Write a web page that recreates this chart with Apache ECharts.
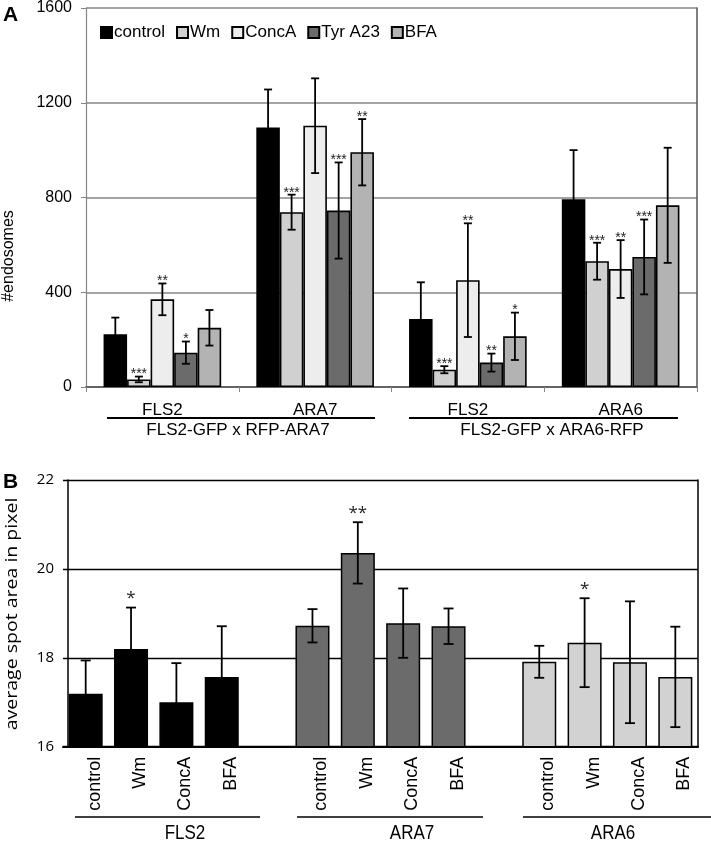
<!DOCTYPE html>
<html><head><meta charset="utf-8">
<script src="https://cdn.jsdelivr.net/npm/echarts@6/dist/echarts.min.js"></script>
<style>html,body{margin:0;padding:0;background:#fff}#c{width:711px;height:842px}</style>
</head><body><div id="c"></div>
<script>
// ================= DATA =================
// Panel A
const groupsA = ['FLS2', 'ARA7', 'FLS2', 'ARA6'];
const crossesA = ['FLS2-GFP x RFP-ARA7', 'FLS2-GFP x ARA6-RFP'];
const treatmentsA = ['control', 'Wm', 'ConcA', 'Tyr A23', 'BFA'];
const yTicksA = [0, 400, 800, 1200, 1600];
const controlA = [223, 1096, 287, 793];
const controlErrA = [70, 160, 155, 207];
const controlStarsA = ['', '', '', ''];
const wmA = [32, 738, 73, 531];
const wmErrA = [12, 74, 15, 78];
const wmStarsA = ['***', '***', '***', '***'];
const concAA = [370, 1103, 451, 498];
const concAErrA = [67, 200, 240, 122];
const concAStarsA = ['**', '', '**', '**'];
const tyrA = [145, 745, 103, 549];
const tyrErrA = [47, 203, 38, 158];
const tyrStarsA = ['*', '***', '**', '***'];
const bfaA = [250, 991, 214, 767];
const bfaErrA = [75, 140, 100, 243];
const bfaStarsA = ['', '**', '*', ''];

// Panel B
const markersB = ['FLS2', 'ARA7', 'ARA6'];
const treatmentsB = ['control', 'Wm', 'ConcA', 'BFA'];
const yTicksB = [16, 18, 20, 22];
const fls2B = [17.19, 18.20, 17.00, 17.57];
const fls2ErrB = [0.75, 0.93, 0.88, 1.14];
const fls2StarsB = ['', '*', '', ''];
const ara7B = [18.72, 20.36, 18.78, 18.71];
const ara7ErrB = [0.375, 0.69, 0.78, 0.40];
const ara7StarsB = ['', '**', '', ''];
const ara6B = [17.91, 18.34, 17.90, 17.57];
const ara6ErrB = [0.36, 1.0, 1.37, 1.13];
const ara6StarsB = ['', '*', '', ''];

// ================= STYLE =================
const colorsA = ['#000000', '#d0d0d0', '#ededed', '#6b6b6b', '#b3b3b3'];
const colorsB = ['#000000', '#6b6b6b', '#d2d2d2'];
const FONT = 'Liberation Sans, Arial, sans-serif';
const FONT_B = 'Open Sans, sans-serif';
const gridA = { left: 86, top: 8, width: 611, height: 379 };
const gridB = { left: 63, top: 480, width: 635, height: 266.7 };
const catGapA = 0.23;

// ================= BUILD =================
const valsA = [controlA, wmA, concAA, tyrA, bfaA];
const errsA = [controlErrA, wmErrA, concAErrA, tyrErrA, bfaErrA];
const starsA = [controlStarsA, wmStarsA, concAStarsA, tyrStarsA, bfaStarsA];

const errDataA = [];
const errStarA = [];
treatmentsA.forEach((t, s) => {
  groupsA.forEach((g, c) => {
    errDataA.push([c, valsA[s][c], valsA[s][c] - errsA[s][c], valsA[s][c] + errsA[s][c], s]);
    errStarA.push(starsA[s][c]);
  });
});

const valsB = [fls2B, ara7B, ara6B];
const errsB = [fls2ErrB, ara7ErrB, ara6ErrB];
const starsB = [fls2StarsB, ara7StarsB, ara6StarsB];
const catsB = [];
const barDataB = [];
const errDataB = [];
const errStarB = [];
markersB.forEach((m, g) => {
  if (g > 0) { catsB.push(''); barDataB.push(null); }
  treatmentsB.forEach((t, i) => {
    const idx = catsB.length;
    catsB.push(t);
    barDataB.push({ value: valsB[g][i], itemStyle: { color: colorsB[g] } });
    errDataB.push([idx, valsB[g][i], valsB[g][i] - errsB[g][i], valsB[g][i] + errsB[g][i]]);
    errStarB.push(starsB[g][i]);
  });
});

function errItem(x, yT, yB, cap, lw, star, starFont, starDy) {
  const st = { stroke: '#000', lineWidth: lw };
  const ch = [
    { type: 'line', shape: { x1: x, y1: yT, x2: x, y2: yB }, style: st },
    { type: 'line', shape: { x1: x - cap, y1: yT, x2: x + cap, y2: yT }, style: st },
    { type: 'line', shape: { x1: x - cap, y1: yB, x2: x + cap, y2: yB }, style: st }
  ];
  if (star) ch.push({ type: 'text', style: { text: star, x: x, y: yT + starDy, align: 'center', verticalAlign: 'bottom', font: starFont, fill: '#222' } });
  return { type: 'group', children: ch };
}

const series = [];
treatmentsA.forEach((t, i) => {
  series.push({
    type: 'bar', name: t, xAxisIndex: 0, yAxisIndex: 0, data: valsA[i],
    barGap: '0%', barCategoryGap: (catGapA * 100) + '%',
    itemStyle: { color: colorsA[i], borderColor: '#000', borderWidth: 1.6 },
    emphasis: { disabled: true }, z: 2
  });
});
series.push({
  type: 'custom', xAxisIndex: 0, yAxisIndex: 0, data: errDataA, z: 5,
  encode: { x: 0, y: [1, 2, 3] }, silent: true,
  renderItem: (params, api) => {
    const c = api.value(0), v = api.value(1), lo = api.value(2), hi = api.value(3), s = api.value(4);
    const band = api.size([1, 0])[0];
    const bw = band * (1 - catGapA) / treatmentsA.length;
    const x = api.coord([c, v])[0] + (s - (treatmentsA.length - 1) / 2) * bw;
    const yT = api.coord([c, hi])[1], yB = api.coord([c, lo])[1];
    return errItem(x, yT, yB, 4, 1.8, errStarA[params.dataIndex], '14px ' + FONT, 5);
  }
});
series.push({
  type: 'bar', xAxisIndex: 3, yAxisIndex: 2, data: barDataB,
  barCategoryGap: '25%',
  itemStyle: { borderColor: '#000', borderWidth: 1.5 },
  emphasis: { disabled: true }, z: 2
});
series.push({
  type: 'custom', xAxisIndex: 3, yAxisIndex: 2, data: errDataB, z: 5,
  encode: { x: 0, y: [1, 2, 3] }, silent: true,
  renderItem: (params, api) => {
    const c = api.value(0), v = api.value(1), lo = api.value(2), hi = api.value(3);
    const x = api.coord([c, v])[0];
    const yT = api.coord([c, hi])[1], yB = api.coord([c, lo])[1];
    return errItem(x, yT, yB, 5, 1.8, errStarB[params.dataIndex], '17px ' + FONT_B, -1);
  }
});

const grayAxis = '#868686';
const plain = v => String(v);
const option = {
  animation: false,
  backgroundColor: '#fff',
  grid: [
    Object.assign({}, gridA),
    Object.assign({}, gridB)
  ],
  legend: {
    data: treatmentsA, left: 95, top: 19, icon: 'rect', itemWidth: 11, itemHeight: 11, itemGap: 11,
    textStyle: { fontFamily: FONT, fontSize: 17, color: '#000', padding: [0, 0, 0, -3] },
    selectedMode: false
  },
  xAxis: [
    { type: 'category', gridIndex: 0, data: groupsA, position: 'bottom',
      axisLine: { lineStyle: { color: grayAxis, width: 1.5 } },
      axisTick: { show: true, length: 5, lineStyle: { color: grayAxis } },
      axisLabel: { fontFamily: FONT, fontSize: 17, color: '#000', margin: 15, interval: 0 } },
    { type: 'category', gridIndex: 0, data: groupsA, position: 'top',
      axisLine: { lineStyle: { color: '#555', width: 1.5 } }, axisTick: { show: false }, axisLabel: { show: false } },
    { type: 'category', gridIndex: 1, data: catsB, position: 'top',
      axisLine: { show: false }, axisTick: { show: false }, axisLabel: { show: false } },
    { type: 'category', gridIndex: 1, data: catsB, position: 'bottom',
      axisLine: { lineStyle: { color: '#000', width: 2 } }, axisTick: { show: false },
      axisLabel: { fontFamily: FONT, fontSize: 18, color: '#000', rotate: 90, margin: 10, interval: 0, verticalAlign: 'top' } }
  ],
  yAxis: [
    { type: 'value', gridIndex: 0, min: yTicksA[0], max: yTicksA[yTicksA.length - 1], interval: yTicksA[1] - yTicksA[0],
      axisLine: { show: true, lineStyle: { color: grayAxis, width: 1.2 } },
      axisTick: { show: true, length: 5, lineStyle: { color: grayAxis } },
      axisLabel: { fontFamily: FONT, fontSize: 16, color: '#000', margin: 14, formatter: plain },
      splitLine: { show: true, lineStyle: { color: grayAxis, width: 1.5 } } },
    { type: 'value', gridIndex: 0, position: 'right', min: yTicksA[0], max: yTicksA[yTicksA.length - 1],
      axisLine: { show: true, lineStyle: { color: '#555', width: 1.5 } }, axisTick: { show: false }, axisLabel: { show: false }, splitLine: { show: false } },
    { type: 'value', gridIndex: 1, min: yTicksB[0], max: yTicksB[yTicksB.length - 1], interval: yTicksB[1] - yTicksB[0],
      offset: -5,
      axisLine: { show: true, lineStyle: { color: '#000', width: 1.5 } },
      axisTick: { show: false },
      axisLabel: { fontFamily: FONT_B, fontSize: 15, color: '#000', margin: 14, formatter: plain },
      splitLine: { show: true, lineStyle: { color: '#000', width: 1.3 } } },
    { type: 'value', gridIndex: 1, position: 'right', min: yTicksB[0], max: yTicksB[yTicksB.length - 1],
      axisLine: { show: true, lineStyle: { color: '#000', width: 1.5 } }, axisTick: { show: false }, axisLabel: { show: false }, splitLine: { show: false } }
  ],
  graphic: [
    { type: 'text', left: 3, top: 5, style: { text: 'A', font: 'bold 21px ' + FONT, fill: '#000' } },
    { type: 'text', left: 3, top: 472, style: { text: 'B', font: 'bold 21px ' + FONT, fill: '#000' } },
    { type: 'text', x: 9, y: 256, rotation: Math.PI / 2, style: { text: '#endosomes', font: '16px ' + FONT, fill: '#000', align: 'center', verticalAlign: 'middle' } },
    { type: 'text', x: 12, y: 614, rotation: Math.PI / 2, scaleX: 1.22, style: { text: 'average spot area in pixel', font: '16px ' + FONT_B, fill: '#000', align: 'center', verticalAlign: 'middle' } },
    { type: 'line', shape: { x1: 107, y1: 418, x2: 375, y2: 418 }, style: { stroke: '#000', lineWidth: 2 } },
    { type: 'line', shape: { x1: 409, y1: 418, x2: 678, y2: 418 }, style: { stroke: '#000', lineWidth: 2 } },
    { type: 'text', x: 238, y: 430, style: { text: crossesA[0], font: '17px ' + FONT, fill: '#000', align: 'center', verticalAlign: 'middle' } },
    { type: 'text', x: 552, y: 430, style: { text: crossesA[1], font: '17px ' + FONT, fill: '#000', align: 'center', verticalAlign: 'middle' } },
    { type: 'line', shape: { x1: 75, y1: 817, x2: 260, y2: 817 }, style: { stroke: '#000', lineWidth: 1.5 } },
    { type: 'line', shape: { x1: 297, y1: 817, x2: 483, y2: 817 }, style: { stroke: '#000', lineWidth: 1.5 } },
    { type: 'line', shape: { x1: 523, y1: 817, x2: 711, y2: 817 }, style: { stroke: '#000', lineWidth: 1.5 } },
    { type: 'text', x: 185, y: 833, scaleX: 0.85, style: { text: markersB[0], font: '20px ' + FONT, fill: '#000', align: 'center', verticalAlign: 'middle' } },
    { type: 'text', x: 412, y: 833, scaleX: 0.85, style: { text: markersB[1], font: '20px ' + FONT, fill: '#000', align: 'center', verticalAlign: 'middle' } },
    { type: 'text', x: 613, y: 833, scaleX: 0.85, style: { text: markersB[2], font: '20px ' + FONT, fill: '#000', align: 'center', verticalAlign: 'middle' } }
  ],
  series: series
};

const chart = echarts.init(document.getElementById('c'), null, { renderer: 'canvas' });
chart.setOption(option);
</script>
</body></html>
